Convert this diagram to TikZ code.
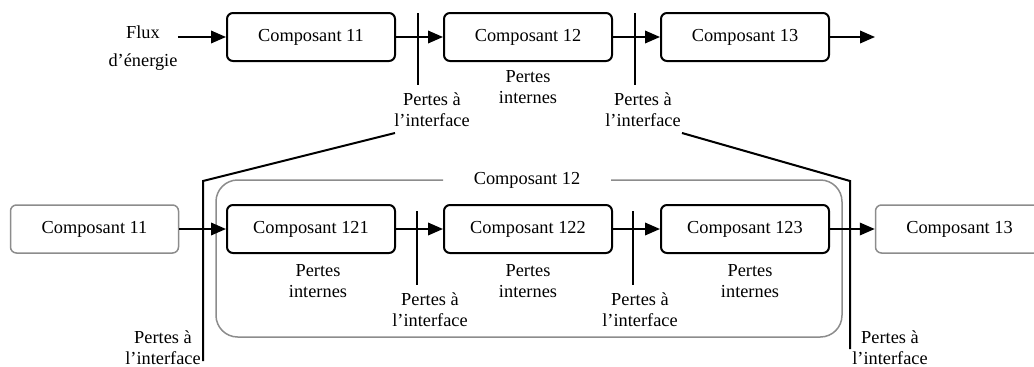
\documentclass[tikz,border=0pt]{standalone}
\usepackage{fontspec}
\setmainfont{Liberation Serif}
\usetikzlibrary{arrows.meta, positioning}

\begin{document}
\begin{tikzpicture}[
    x=0.6pt, y=-0.6pt,
    font=\fontsize{11}{12.6}\selectfont,
    node distance=28.2pt,
    comp/.style={
        draw,
        line width=1.2pt,
        rounded corners=3.6pt,
        minimum width=100.8pt,
        minimum height=28.8pt,
        align=center
    },
    extcomp/.style={
        comp,
        draw=black!45,
        line width=0.9pt
    },
    lbl/.style={align=center, inner sep=0pt},
    flow/.style={-{Triangle[length=9pt, width=7.5pt]}, line width=1.2pt},
    cut/.style={line width=1.2pt},
    grp/.style={draw=black!45, line width=0.9pt, rounded corners=13pt}
]
\clip (0,0) rectangle (1034,367);

% top row
\node[comp] (c11) at (311,37) {Composant 11};
\node[comp, right=of c11] (c12) {Composant 12};
\node[comp, right=of c12] (c13) {Composant 13};
\node[lbl, font=\fontsize{11}{17}\selectfont] (flux) at (143,48) {Flux\\d’énergie};
\coordinate (out) at (875,37);

\draw[flow] (flux.east |- c11.west) -- (c11);
\draw[flow] (c11) -- (c12);
\draw[flow] (c12) -- (c13);
\draw[flow] (c13) -- (out);

\coordinate (t1a) at (418,13); \coordinate (t1b) at (418,85);
\coordinate (t2a) at (635,13); \coordinate (t2b) at (635,85);
\draw[cut] (t1a) -- (t1b);
\draw[cut] (t2a) -- (t2b);
\node[lbl] (tl1) at (432,110) {Pertes à\\l’interface};
\node[lbl] (tl2) at (643,110) {Pertes à\\l’interface};
\node[lbl] (ti12) at (528,87) {Pertes\\internes};

% bottom row: inside Composant 12
\draw[grp] (443,180) -| (216,337) -| (842,180) -- (611,180);
\node (grpt) at (527,180) {Composant 12};

\node[extcomp] (b11) at (94.5,229) {Composant 11};
\node[comp] (b121) at (311,229) {Composant 121};
\node[comp, right=of b121] (b122) {Composant 122};
\node[comp, right=of b122] (b123) {Composant 123};
\node[extcomp] (b13) at (959.5,229) {Composant 13};

\draw[flow] (b11) -- (b121);
\draw[flow] (b121) -- (b122);
\draw[flow] (b122) -- (b123);
\draw[flow] (b123) -- (b13);

\coordinate (u0a) at (203,181); \coordinate (u0b) at (203,361);
\coordinate (u1a) at (417,211); \coordinate (u1b) at (417,285);
\coordinate (u2a) at (633,211); \coordinate (u2b) at (633,285);
\coordinate (u3a) at (850,181); \coordinate (u3b) at (850,349);
\coordinate (s1) at (395,133); \coordinate (s2) at (682,133);
\draw[cut] (s1) -- (u0a) -- (u0b);
\draw[cut] (s2) -- (u3a) -- (u3b);
\draw[cut] (u1a) -- (u1b);
\draw[cut] (u2a) -- (u2b);

\node[lbl] (bl0) at (163,348) {Pertes à\\l’interface};
\node[lbl] (bl1) at (430,310) {Pertes à\\l’interface};
\node[lbl] (bl2) at (640,310) {Pertes à\\l’interface};
\node[lbl] (bl3) at (890,348) {Pertes à\\l’interface};
\node[lbl] (bi121) at (318,281) {Pertes\\internes};
\node[lbl] (bi122) at (528,281) {Pertes\\internes};
\node[lbl] (bi123) at (750,281) {Pertes\\internes};
\end{tikzpicture}
\end{document}
